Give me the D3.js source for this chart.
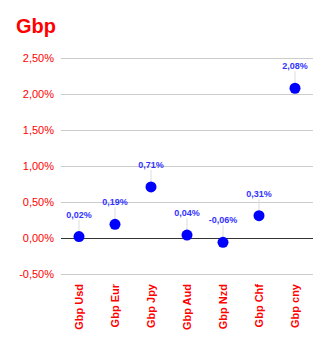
<!DOCTYPE html>
<html><head><meta charset="utf-8">
<script src="https://cdn.jsdelivr.net/npm/d3@7"></script>
<style>body{margin:0;background:#fff}svg{display:block}</style>
</head><body>
<script>
const categories = ["Gbp Usd","Gbp Eur","Gbp Jpy","Gbp Aud","Gbp Nzd","Gbp Chf","Gbp cny"];
const values = [0.02, 0.19, 0.71, 0.04, -0.06, 0.31, 2.08];
const yTicks = [-0.5, 0, 0.5, 1.0, 1.5, 2.0, 2.5];
const title = "Gbp";

const W = 329, H = 344;
const svg = d3.select("body").append("svg").attr("width", W).attr("height", H);
const locale = d3.formatLocale({decimal: ",", thousands: ".", grouping: [3], currency: ["", "%"], minus: "-"});
const f2 = locale.format(".2f");
const fmt = v => f2(v) + "%";

const x = d3.scaleBand().domain(categories).range([61, 313]);
const y = d3.scaleLinear().domain([-0.5, 2.5]).range([274, 58]);

svg.append("text").attr("x", 16).attr("y", 33).text(title)
  .attr("fill", "#ff0000").attr("font-family", "Liberation Sans, Arial, sans-serif")
  .attr("font-weight", "bold").attr("font-size", 20);

const yAxis = svg.append("g").attr("transform", "translate(61,0)")
  .call(d3.axisLeft(y).tickValues(yTicks).tickSize(-252).tickFormat(fmt).tickPadding(7));
yAxis.select(".domain").remove();
yAxis.selectAll(".tick line").attr("stroke", d => d === 0 ? "#333" : "#ccc").attr("stroke-width", 1);
yAxis.selectAll(".tick text").attr("fill", "#ff0000")
  .attr("font-family", "Liberation Sans, Arial, sans-serif").attr("font-size", 11);
yAxis.selectAll(".tick").filter(d => d === 0).raise();

const xAxis = svg.append("g").attr("transform", "translate(0,280)")
  .call(d3.axisBottom(x).tickSize(0).tickPadding(0));
xAxis.select(".domain").remove();
xAxis.selectAll(".tick text")
  .attr("transform", "rotate(-90)").attr("text-anchor", "end")
  .attr("x", -4).attr("y", 0).attr("dy", "0.35em")
  .attr("fill", "#ff0000").attr("font-family", "Liberation Sans, Arial, sans-serif")
  .attr("font-weight", "bold").attr("font-size", 11);

const g = svg.append("g");
const cx = d => x(d) + x.bandwidth() / 2;
g.selectAll("line.lead").data(categories).join("line")
  .attr("x1", d => cx(d)).attr("x2", d => cx(d))
  .attr("y1", (d, i) => y(values[i]) - 17).attr("y2", (d, i) => y(values[i]))
  .attr("stroke", "#ddd").attr("stroke-width", 1);
g.selectAll("circle").data(categories).join("circle")
  .attr("cx", d => cx(d)).attr("cy", (d, i) => y(values[i])).attr("r", 5.5)
  .attr("fill", "#0000ff");
g.selectAll("text").data(categories).join("text")
  .attr("x", d => cx(d)).attr("y", (d, i) => y(values[i]) - 19)
  .attr("text-anchor", "middle").text((d, i) => fmt(values[i]))
  .attr("fill", "#3333ff").attr("font-family", "Liberation Sans, Arial, sans-serif")
  .attr("font-weight", "bold").attr("font-size", 9);
</script>
</body></html>
